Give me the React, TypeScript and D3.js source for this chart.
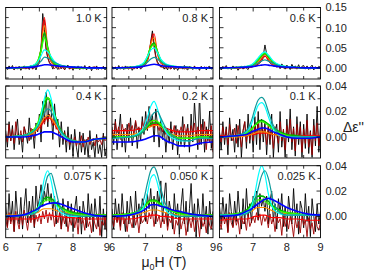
import React from 'react';
import * as d3 from 'd3';

const W = 366;
const H = 273;

// Field grid (T) for the smooth fitted curves
const fieldGrid = [6.0, 6.5, 6.8, 6.95, 7.05, 7.15, 7.25, 7.35, 7.45, 7.6, 7.8, 8.0, 8.3, 8.6, 9.0];
const panelLabels = ['1.0 K', '0.8 K', '0.6 K', '0.4 K', '0.2 K', '0.1 K', '0.075 K', '0.050 K', '0.025 K'];
const xTickLabels = ['6', '7', '8', '9'];
const yTickLabelsTop = ['0.00', '0.05', '0.10', '0.15'];
const yTickLabelsLow = ['0.00', '0.02', '0.04'];

// All values in units of 1e-3 (Δε'')
// Noisy raw traces on a regular 0.05 T grid from 6 to 9 T (61 points)
const blackTraces = [
  [3,-4,5,-2,6,-5,2,-3,4,-6,1,5,-3,2,-4,6,-2,3,-5,8, 18,50,135,95,45,25,14, 8,-3,9,2,-4,6,-2,4,-5,3,7,-3,2,-6,4,-2,5,-4,3,-3,6,-5,2,4,-7,3,-2,5,-4,2,-3,4,-5,2],
  [4,-3,2,-5,6,-2,3,-4,5,-1,-3,4,-6,2,3,-2,5,-3,2,6, 10,20,35,65,92,60,30, 15,9,2,6,-3,4,-5,7,-2,3,-4,5,-6,2,4,-3,6,-2,-5,3,1,-4,5,-3,2,-6,4,-2,3,-5,2,4,-3,1],
  [3,-5,4,-2,6,-3,1,-4,5,-2,3,-6,2,4,-3,5,-1,-4,6,2, 4,8,6,12,15,22,30, 57,35,24,14,18,6,9,3,8,-2,10,4,-3,7,2,-4,9,1,5,-3,8,-2,4,6,-3,5,-4,2,7,-5,3,-2,4,1],
  [5,-8,12,-3,9,-10,4,14,-6,2,-12,8,3,-5,15,-2,6,-9,11,4, 18,-4,28,12,35,8,30, 22,-2,26,10,14,-8,12,-6,5,-12,8,-10,2,-15,6,-8,-16,4,-12,3,-14,-2,-16,5,-10,-4,-16,2,-13,-6,-16,3,-15,-8],
  [8,-6,14,-10,4,18,-8,6,-12,10,-4,15,-7,3,12,-9,7,-3,16,2, 20,5,24,9,18,-4,22, 10,-8,14,-2,8,-12,6,-5,12,-10,3,9,-14,5,-6,16,-8,2,10,-12,18,-4,28,6,-10,35,-6,14,-12,8,-3,20,-9,4],
  [4,-10,12,-6,8,-14,15,-3,6,-12,10,-8,14,-16,5,12,-9,18,-5,10, -12,16,-6,20,-10,14,-4, 12,-14,8,-6,18,-16,4,10,-12,20,-8,6,-16,14,-4,22,-10,8,-15,16,-6,12,-16,10,-9,18,-13,5,-16,14,-7,24,-12,9],
  [10,-8,18,-4,12,-12,20,2,-6,15,-10,8,22,-5,12,-3,16,-9,24,6, 14,25,8,20,12,26,10, 18,4,16,-6,12,8,-10,14,2,-8,12,-4,10,-12,6,16,-5,8,-14,12,2,-9,18,-3,10,-12,14,0,-8,16,-16,6,-10,4],
  [6,-10,14,-4,10,-8,18,0,-12,12,-6,16,4,-9,20,-2,10,-6,14,8, -4,18,6,22,2,16,-6, 20,8,28,-4,14,30,-8,12,4,-10,18,-2,10,-14,8,22,-6,12,-12,6,26,-4,10,-16,14,2,-10,18,-6,8,-14,12,-8,4],
  [8,-6,15,-2,10,-12,18,4,-8,12,-4,20,2,-10,14,-6,22,0,10,-5, 16,6,20,-3,18,8,14, 4,16,-6,12,20,-4,10,-10,14,2,18,-8,8,-12,16,4,-6,22,-2,10,-14,12,6,-9,18,-4,8,-16,14,0,-12,10,-6,4],
];

const darkRedTraces = [
  [-2,1,-3,2,0,-4,3,-1,2,-3,1,-2,3,-1,0,2,-3,1,2,5, 12,45,110,120,50,24,12, 6,3,-2,4,1,-3,2,0,-4,3,1,-2,2,-3,1,0,3,-2,1,-1,2,-3,0,2,-2,1,3,-4,1,0,-2,2,-1,1],
  [1,-2,2,-1,0,-3,2,1,-2,3,-1,0,2,-3,1,-1,2,0,3,4, 8,16,30,60,85,50,26, 12,6,3,1,4,-2,2,0,-3,2,1,-2,3,-1,0,2,-3,1,-1,2,0,-2,3,-1,1,-3,2,0,-1,2,-2,1,0,-1],
  [-1,1,-2,2,0,-1,1,-2,2,0,-1,2,-2,1,0,-1,2,0,1,2, 3,5,6,9,12,17,24, 30,26,18,12,8,5,4,2,3,1,2,0,1,-1,2,0,-1,1,0,-2,1,0,-1,2,0,-1,1,-2,0,1,-1,0,1,-1],
  [2,-4,10,-3,6,-5,12,1,-2,5,-4,8,0,3,-3,7,2,-1,9,5, 12,6,15,10,16,12,18, 13,9,14,6,10,3,5,-2,4,-4,1,-6,-2,-5,0,-7,-3,-6,1,-8,-2,-5,0,-6,-3,-1,-7,0,-4,-2,-6,1,-3,-1],
  [6,0,12,3,8,-2,10,4,7,1,11,5,9,2,13,6,8,3,12,7, 10,6,14,8,12,7,13, 9,5,11,4,8,2,7,0,6,3,9,-1,6,2,8,4,10,1,7,-3,9,3,11,-2,8,-6,10,0,12,-10,6,-4,9,-12],
  [3,-4,8,-2,6,-6,10,0,-3,7,-5,9,1,-8,5,12,-4,6,-2,8, -3,9,2,11,-1,8,3, 7,-6,10,-2,5,-9,8,1,-5,12,-3,6,-10,9,0,14,-4,7,-11,10,-2,8,-12,6,-5,13,-8,4,-14,9,-3,11,-7,2],
  [-2,-9,3,-6,1,-12,4,-4,-10,2,-7,5,-3,-11,0,-5,3,-8,1,-4, 2,-6,4,-2,5,-5,3, -3,4,-8,1,-5,3,-10,0,-6,2,-12,-2,-7,4,-9,-1,-14,2,-6,-3,-11,1,-8,-4,-13,0,-6,-10,2,-15,-4,-7,0,-12],
  [-3,-8,2,-5,0,-11,3,-6,-2,-12,1,-4,-9,2,-7,-1,-13,0,-5,-3, 1,-6,3,-2,4,-8,2, -4,1,-9,0,-6,3,-11,-2,-5,1,-14,-3,-7,0,-10,-4,-1,-15,-6,-2,-9,0,-12,-5,-3,-16,-1,-8,-4,-13,0,-7,-10,-3],
  [-3,-10,2,-6,-1,-13,3,-5,-9,1,-7,-2,-14,0,-6,-3,-11,2,-8,-4, 0,-5,3,-3,2,-7,1, -4,0,-9,2,-6,-1,-12,0,-5,-2,-15,1,-8,-3,-10,0,-6,-16,-2,-9,-4,-13,1,-7,-3,-16,-1,-10,-5,-14,0,-8,-11,-4],
];

// Smooth curves on fieldGrid, one row per panel
const redCurves = [
  [0,0,2,10,50,125,45,15,7,3,1,0,0,0,0],
  [0,0,2,6,18,60,85,35,12,5,2,1,0,0,0],
  [0,0,1,3,6,12,22,30,20,8,3,1,0,0,0],
  [0,1,3,6,9,13,15,14,10,4,-1,-3,-4,-2,-1],
  [5,5,6,7,8,9,10,10,9,7,5,4,4,5,5],
  [1,1,1,2,2,3,3,3,3,2,2,1,1,1,1],
  [-2,-2,-2,-1,0,0,1,1,0,0,-1,-1,-2,-2,-2],
  [-2,-2,-1,0,0,1,1,1,0,0,-1,-2,-2,-2,-2],
  [-3,-2,-2,-1,0,0,1,1,0,-1,-1,-2,-2,-3,-3],
];
const orangeCurves = [
  [0,0,3,12,48,105,48,18,8,4,2,1,0,0,0],
  [0,0,3,8,22,58,75,38,15,6,3,1,0,0,0],
  [0,0,2,4,8,15,26,34,24,10,4,2,1,0,0],
  [0,1,3,7,11,15,17,15,11,5,-1,-3,-4,-2,-1],
  [2,2,3,5,7,8,9,9,8,5,2,1,1,2,2],
  [0,0,1,2,3,4,4,4,3,2,1,0,0,0,0],
  [1,1,2,3,5,6,6,6,5,4,3,2,1,1,1],
  [1,1,2,3,4,5,5,5,4,3,2,1,1,1,1],
  [1,2,3,4,6,7,7,7,6,4,3,2,1,1,1],
];
const greenCurves = [
  [0,1,4,15,45,88,50,22,10,5,3,1,0,0,0],
  [0,1,4,10,25,52,62,40,18,8,4,2,1,0,0],
  [0,1,3,6,11,20,30,36,28,13,5,2,1,0,0],
  [0,1,4,9,15,24,30,27,18,7,0,-3,-4,-2,-1],
  [0,0,2,5,8,10,11,11,9,5,1,-1,-1,0,0],
  [0,1,3,6,9,12,13,12,10,7,4,2,1,0,0],
  [0,1,3,7,11,14,15,14,12,8,5,3,2,1,1],
  [1,2,4,8,11,13,13,12,10,7,4,3,2,1,1],
  [1,2,5,10,14,16,16,15,12,8,5,3,2,1,1],
];
const lightGreenCurves = [
  [0,1,5,17,42,75,48,25,12,6,3,1,0,0,0],
  [0,1,5,12,28,50,58,40,20,9,4,2,1,0,0],
  [0,1,3,7,13,22,32,38,30,15,6,3,1,0,0],
  [0,1,5,11,19,28,31,26,17,6,0,-3,-4,-2,-1],
  [0,0,2,6,9,12,13,12,10,5,1,-1,-1,0,0],
  [0,1,3,6,9,11,12,11,9,6,3,1,0,0,0],
  [0,1,3,6,9,12,13,12,10,7,4,2,1,1,1],
  [1,2,4,7,10,12,12,11,9,6,4,2,1,1,1],
  [1,2,4,8,11,13,13,12,10,7,4,3,2,1,1],
];
const cyanCurves = [
  [0,1,6,15,30,45,40,28,16,8,4,2,1,0,0],
  [0,1,6,14,28,44,50,38,22,10,5,2,1,0,0],
  [0,1,4,8,15,25,35,40,32,17,7,3,1,0,0],
  [0,1,4,9,17,30,37,30,17,5,-1,-3,-4,-2,-1],
  [-1,0,3,8,15,24,28,22,13,4,-1,-3,-3,-1,-1],
  [0,1,4,10,18,25,27,24,16,6,1,0,0,0,0],
  [0,1,2,6,16,30,36,28,14,4,1,0,0,0,0],
  [0,1,3,8,18,30,33,26,14,5,1,0,0,0,0],
  [1,1,3,8,18,32,40,33,18,6,2,1,1,1,1],
];
const tealCurves = [
  [0,1,4,9,17,27,25,20,14,8,4,2,1,0,0],
  [0,1,4,8,14,22,26,22,15,8,4,2,1,0,0],
  [0,1,3,5,8,12,17,20,17,11,5,2,1,0,0],
  [0,1,4,8,13,19,22,20,14,6,0,-3,-4,-2,-1],
  [-1,0,2,5,10,15,19,20,15,7,1,-2,-3,-1,-1],
  [0,1,5,13,22,29,31,28,20,9,2,0,0,0,0],
  [0,1,2,4,10,22,32,34,25,9,2,1,0,0,0],
  [0,1,5,14,26,36,39,33,22,9,2,0,0,0,0],
  [1,1,2,5,11,22,32,36,30,12,3,1,1,1,1],
];
const blueCurves = [
  [0,1,2,4,6,8,8,7,6,4,3,2,1,0,0],
  [0,1,2,4,6,8,9,8,6,4,3,2,1,0,0],
  [0,1,2,3,4,6,7,8,7,5,3,2,1,0,0],
  [0,0,1,2,3,4,4,4,3,1,-2,-4,-4,-2,-1],
  [-4,-4,-3,-2,-1,0,1,1,0,-3,-5,-7,-7,-5,-4],
  [0,1,2,4,5,6,7,7,6,4,2,0,-1,-1,0],
  [0,1,4,6,8,9,10,10.5,10.7,10,8,6,3,1,0],
  [0,1,3,5,7,9,9.4,9,8,7,5,4,2,1,0],
  [0,1,4,6,8,10,12,13.5,14.2,13,10,7,4,2,1],
];

const colX = [5.7, 112, 219.5];
const panelW = 101;
const rowY = [7.5, 86, 165.7];
const rowH = [71.5, 72, 72];
const rowDomains = [[-27.5, 150], [-16.5, 40], [-16.8, 40]];
const rowMajor = [[0, 50, 100, 150], [0, 20, 40], [0, 20, 40]];
const rowMinor = [[-25, 25, 75, 125], [-10, 10, 30], [-10, 10, 30]];
const FONT = "'Liberation Sans', Arial, Helvetica, sans-serif";

const smoothSeries = [
  { data: redCurves, color: '#ff0000', w: 1.1 },
  { data: orangeCurves, color: '#ff8c00', w: 1.1 },
  { data: greenCurves, color: '#00b400', w: 1.6 },
  { data: lightGreenCurves, color: '#33ff00', w: 1.3 },
  { data: cyanCurves, color: '#00ffff', w: 1.2 },
  { data: tealCurves, color: '#119a9a', w: 1.2 },
  { data: blueCurves, color: '#0000ff', w: 1.6 },
];

function Panel({ idx }: { idx: number }) {
  const col = idx % 3;
  const row = Math.floor(idx / 3);
  const x0 = colX[col];
  const y0 = rowY[row];
  const h = rowH[row];
  const x = d3.scaleLinear().domain([6, 9]).range([x0, x0 + panelW]);
  const y = d3.scaleLinear().domain(rowDomains[row]).range([y0 + h, y0]);
  const smoothLine = d3.line<number>()
    .x((_, i) => x(fieldGrid[i]))
    .y((v) => y(v))
    .curve(d3.curveMonotoneX);
  const noisyLine = (arr: number[]) =>
    d3.line<number>()
      .x((_, i) => x(6 + (3 * i) / (arr.length - 1)))
      .y((v) => y(v))(arr) || '';
  const clipId = `clip${idx}`;
  const xTicksMajor = [7, 8];
  const xTicksMinor = [6.5, 7.5, 8.5];
  const tick = [] as React.ReactNode[];
  xTicksMajor.forEach((t) => {
    tick.push(<line key={`xt${t}`} x1={x(t)} x2={x(t)} y1={y0} y2={y0 + 4} />);
    tick.push(<line key={`xb${t}`} x1={x(t)} x2={x(t)} y1={y0 + h} y2={y0 + h - 4} />);
  });
  xTicksMinor.forEach((t) => {
    tick.push(<line key={`xtm${t}`} x1={x(t)} x2={x(t)} y1={y0} y2={y0 + 3} />);
    tick.push(<line key={`xbm${t}`} x1={x(t)} x2={x(t)} y1={y0 + h} y2={y0 + h - 3} />);
  });
  rowMajor[row].forEach((t) => {
    tick.push(<line key={`yl${t}`} x1={x0} x2={x0 + 4} y1={y(t)} y2={y(t)} />);
    tick.push(<line key={`yr${t}`} x1={x0 + panelW} x2={x0 + panelW - 4} y1={y(t)} y2={y(t)} />);
  });
  rowMinor[row].forEach((t) => {
    tick.push(<line key={`ylm${t}`} x1={x0} x2={x0 + 3} y1={y(t)} y2={y(t)} />);
    tick.push(<line key={`yrm${t}`} x1={x0 + panelW} x2={x0 + panelW - 3} y1={y(t)} y2={y(t)} />);
  });
  const label = panelLabels[idx];
  const labelW = label.length * 6.1 + 2;
  return (
    <g>
      <defs>
        <clipPath id={clipId}>
          <rect x={x0} y={y0} width={panelW} height={h} />
        </clipPath>
      </defs>
      <rect x={x0} y={y0} width={panelW} height={h} fill="#fff" />
      <g clipPath={`url(#${clipId})`} fill="none" strokeLinejoin="round">
        <path d={noisyLine(blackTraces[idx])} stroke="#000" strokeWidth={0.9} />
        <path d={noisyLine(darkRedTraces[idx])} stroke="#a00000" strokeWidth={0.9} />
        {smoothSeries.map((s, si) => (
          <path key={si} d={smoothLine(s.data[idx]) || ''} stroke={s.color} strokeWidth={s.w} />
        ))}
      </g>
      <rect x={x0 + panelW - 5 - labelW} y={y0 + 4} width={labelW} height={13} fill="#fff" />
      <g stroke="#000" strokeWidth={0.8}>{tick}</g>
      <rect x={x0} y={y0} width={panelW} height={h} fill="none" stroke="#000" strokeWidth={0.9} />
      <text x={x0 + panelW - 5} y={y0 + 14} textAnchor="end" fontSize={11} fontFamily={FONT} fill="#222">
        {label}
      </text>
      {row === 2 &&
        xTickLabels.map((lab) => (
          <text key={lab} x={x(+lab)} y={251} textAnchor="middle" fontSize={11} fontFamily={FONT} fill="#222">
            {lab}
          </text>
        ))}
      {col === 2 &&
        (row === 0 ? yTickLabelsTop : yTickLabelsLow).map((lab) => (
          <text key={lab} x={x0 + panelW + 5} y={y(+lab * 1000)} dy="0.36em" fontSize={11} fontFamily={FONT} fill="#222">
            {lab}
          </text>
        ))}
    </g>
  );
}

export default function App() {
  return (
    <svg width={W} height={H} style={{ position: 'absolute', left: 0, top: 0, background: '#fff' }}>
      <rect width={W} height={H} fill="#fff" />
      {d3.range(9).map((i) => (
        <Panel key={i} idx={i} />
      ))}
      <text x={164} y={267} textAnchor="middle" fontSize={14} fontFamily={FONT} fill="#222">
        μ<tspan fontSize={9} dy={3}>0</tspan>
        <tspan dy={-3}>H (T)</tspan>
      </text>
      <text x={343} y={132} fontSize={14} fontFamily={FONT} fill="#222">
        Δε''
      </text>
    </svg>
  );
}
